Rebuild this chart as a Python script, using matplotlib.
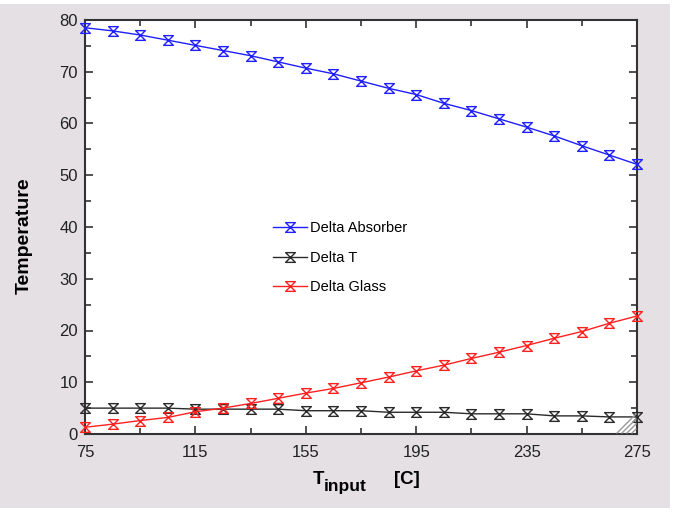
import matplotlib
matplotlib.use("Agg")
import matplotlib.pyplot as plt
from matplotlib.path import Path
from matplotlib.ticker import MultipleLocator, FixedLocator
from matplotlib.patches import Rectangle

plt.rcParams['font.family'] = ['Liberation Sans', 'DejaVu Sans']

t_input = [75, 85, 95, 105, 115, 125, 135, 145, 155, 165, 175,
           185, 195, 205, 215, 225, 235, 245, 255, 265, 275]
delta_absorber = [78.5, 77.9, 77.1, 76.1, 75.1, 74.1, 73.1, 71.9, 70.7, 69.6, 68.2,
                  66.8, 65.6, 63.9, 62.5, 60.9, 59.3, 57.6, 55.7, 53.9, 52.1]
delta_t = [5.0, 5.0, 5.0, 5.0, 4.8, 4.8, 4.8, 4.8, 4.5, 4.5, 4.5,
           4.2, 4.2, 4.2, 3.9, 3.9, 3.9, 3.5, 3.5, 3.3, 3.3]
delta_glass = [1.3, 1.9, 2.6, 3.2, 4.3, 5.0, 5.9, 6.9, 7.9, 8.8, 9.9,
               11.0, 12.2, 13.3, 14.6, 15.8, 17.1, 18.5, 19.8, 21.4, 22.8]
series_names = ["Delta Absorber", "Delta T", "Delta Glass"]
series_colors = ["#1f1fff", "#2a2a2a", "#ff2020"]
x_ticks = [75, 115, 155, 195, 235, 275]

hourglass = Path([(-1, 1), (1, 1), (-1, -1), (1, -1), (-1, 1)],
                 [Path.MOVETO, Path.LINETO, Path.LINETO, Path.LINETO, Path.CLOSEPOLY])

bg = "#e4e0e4"
fig = plt.figure(figsize=(6.73, 5.12), dpi=100, facecolor="white")
fig.patches.append(Rectangle((0, 4 / 512), 670 / 673, 504 / 512, transform=fig.transFigure,
                             facecolor=bg, edgecolor="none", zorder=-10))
ax = fig.add_axes([85 / 673, 1 - 434 / 512, 552 / 673, 414 / 512])
ax.set_facecolor("white")

for ys, name, col in zip([delta_absorber, delta_t, delta_glass], series_names, series_colors):
    ax.plot(t_input, ys, color=col, lw=1.0, marker=hourglass, markersize=7,
            markerfacecolor="none", markeredgecolor=col, markeredgewidth=1.0,
            label=name, clip_on=False, zorder=3)

ax.set_xlim(75, 275)
ax.set_ylim(0, 80)
ax.xaxis.set_major_locator(FixedLocator(x_ticks))
ax.xaxis.set_minor_locator(FixedLocator([95, 135, 175, 215, 255]))
ax.yaxis.set_major_locator(MultipleLocator(10))
ax.yaxis.set_minor_locator(MultipleLocator(5))
ax.tick_params(which="both", direction="in", top=True, right=True, color="#333333",
               labelsize=12, labelcolor="#222222", width=1.2)
ax.tick_params(which="major", length=6)
ax.tick_params(which="minor", length=4)
ax.tick_params(axis="x", pad=8)
ax.tick_params(axis="y", pad=5)
for sp in ax.spines.values():
    sp.set_color("#333333")
    sp.set_linewidth(1.5)

# resize-grip decoration in the lower-right corner
W, H = 552.0, 414.0
for k in range(4):
    d = 5 + k * 5  # pixels
    ax.plot([1 - d / W, 1 - 1 / W], [1 / H, d / H],
            transform=ax.transAxes, color="#9a9a9a", lw=1.0, zorder=4)

ax.set_ylabel("Temperature", fontsize=14, fontweight="bold")
ax.yaxis.set_label_coords(-52 / 552, 0.48)

fig.text(313 / 673, 1 - 484 / 512, "T", fontsize=13.5, fontweight="bold", ha="left", va="baseline")
fig.text(324 / 673, 1 - 491 / 512, "input", fontsize=12.5, fontweight="bold", ha="left", va="baseline")
fig.text(394 / 673, 1 - 484 / 512, "[C]", fontsize=13.5, fontweight="bold", ha="left", va="baseline")

leg = ax.legend(loc="upper left", bbox_to_anchor=(266 / 673, 1 - 214 / 512),
                bbox_transform=fig.transFigure, frameon=False, fontsize=10.5,
                handlelength=2.3, handletextpad=0.2, labelspacing=1.05, borderpad=0)

fig.savefig("out.png", dpi=100, facecolor=fig.get_facecolor())
